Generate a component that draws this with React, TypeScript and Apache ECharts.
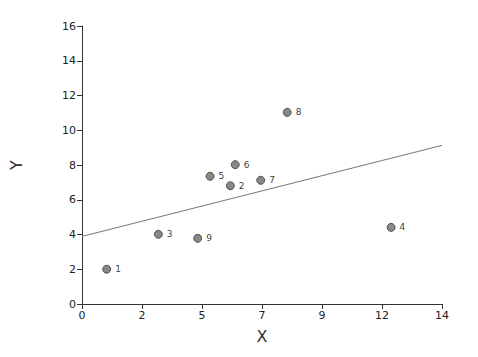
import React, { useEffect, useRef } from "react";
import * as echarts from "echarts";

const pointLabels = ["1", "2", "3", "4", "5", "6", "7", "8", "9"];
const xValues = [0.96, 5.77, 2.97, 12.02, 4.98, 5.96, 6.95, 7.98, 4.5];
const yValues = [2.0, 6.81, 4.01, 4.41, 7.35, 8.02, 7.12, 11.03, 3.78];
const fitLine: [number, number][] = [
  [0, 3.89],
  [14, 9.13],
];

export default function App() {
  const ref = useRef<HTMLDivElement>(null);
  useEffect(() => {
    if (!ref.current) return;
    const chart = echarts.init(ref.current, undefined, { renderer: "svg" });
    const axisCommon = {
      axisLine: { show: true, lineStyle: { color: "#333", width: 1 } },
      axisTick: { show: true, length: 5, lineStyle: { color: "#333" } },
      splitLine: { show: false },
      axisLabel: {
        color: "#222",
        fontSize: 11,
        fontFamily: "DejaVu Sans",
        margin: 6,
      },
      nameTextStyle: { color: "#333", fontSize: 16, fontFamily: "DejaVu Sans" },
      nameLocation: "middle" as const,
    };
    chart.setOption({
      animation: false,
      backgroundColor: "#fff",
      grid: { left: 82, right: 36, top: 26, bottom: 53, containLabel: false },
      xAxis: {
        ...axisCommon,
        type: "value",
        name: "X",
        nameGap: 24,
        min: 0,
        max: 14,
        interval: 14 / 6,
        axisLabel: {
          ...axisCommon.axisLabel,
          formatter: (v: number) => String(Math.round(v)),
        },
      },
      yAxis: {
        ...axisCommon,
        type: "value",
        name: "Y",
        nameGap: 58,
        min: 0,
        max: 16,
        interval: 2,
      },
      series: [
        {
          type: "line",
          data: fitLine,
          symbol: "none",
          lineStyle: { color: "#777", width: 1 },
          silent: true,
          z: 1,
        },
        {
          type: "scatter",
          symbolSize: 8,
          itemStyle: { color: "#6a6a6a", borderColor: "#3a3a3a", borderWidth: 1 },
          data: xValues.map((x, i) => ({
            value: [x, yValues[i]],
            name: pointLabels[i],
          })),
          label: {
            show: true,
            position: "right",
            distance: 4,
            formatter: (p: any) => p.name,
            color: "#000",
            fontSize: 9,
            fontFamily: "DejaVu Sans",
          },
          z: 2,
        },
      ],
    });
    return () => chart.dispose();
  }, []);
  return (
    <div
      ref={ref}
      style={{ position: "fixed", left: 0, top: 0, width: 478, height: 357, background: "#fff" }}
    />
  );
}
